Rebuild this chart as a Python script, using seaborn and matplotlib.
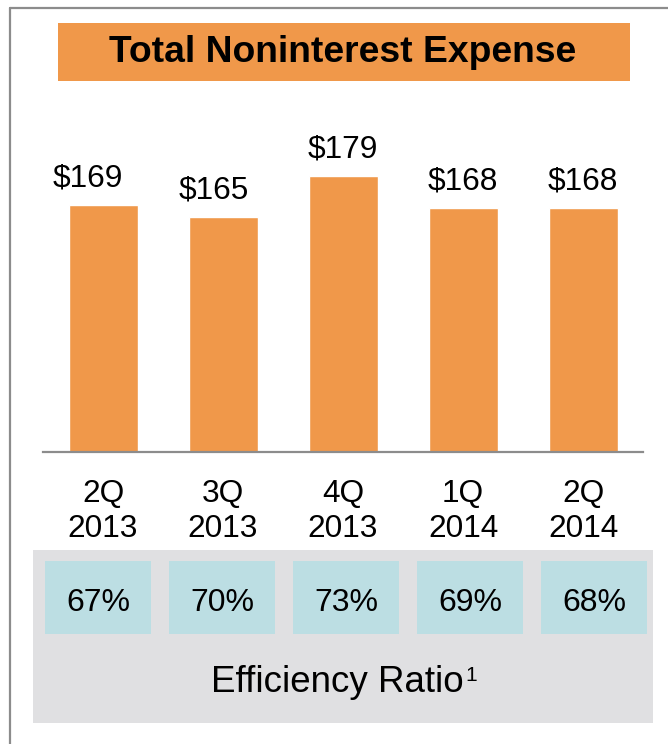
import matplotlib
matplotlib.use("Agg")
import matplotlib.pyplot as plt
import matplotlib.transforms as mtransforms
from matplotlib.patches import Rectangle
from matplotlib.lines import Line2D
import seaborn as sns
import pandas as pd

# ---- data ----
quarters = ["2Q\n2013", "3Q\n2013", "4Q\n2013", "1Q\n2014", "2Q\n2014"]
expense = [169, 165, 179, 168, 168]
efficiency = [67, 70, 73, 69, 68]
title = "Total Noninterest Expense"
panel_label = "Efficiency Ratio"

# label x-shifts (pixels), as in the original layout
label_shift = [-15, -9, 0, 0, 0]

sns.set_theme(style="white")
plt.rcParams['font.family'] = ['Liberation Sans', 'DejaVu Sans']

W, H = 668, 744
fig = plt.figure(figsize=(W / 100, H / 100), dpi=100)
fig.patch.set_facecolor("white")

def fx(x):
    return x / W

def fy(y):
    return 1 - y / H

ORANGE = "#F0984A"
GRAY_LINE = "#8C8C8C"
PANEL = "#E0E0E2"
CYAN = "#BCDEE3"

# outer border (left & top)
fig.add_artist(Line2D([fx(10), fx(10)], [fy(8), fy(H + 5)], color=GRAY_LINE, lw=1.6))
fig.add_artist(Line2D([fx(10), fx(W + 5)], [fy(8), fy(8)], color=GRAY_LINE, lw=1.6))

# title box
fig.add_artist(Rectangle((fx(58), fy(81)), fx(630) - fx(58), fy(23) - fy(81),
                         transform=fig.transFigure, facecolor=ORANGE, edgecolor="none",
                         zorder=-1))
fig.text(fx(343), fy(53), title, ha="center", va="center", fontsize=26.8,
         fontweight="bold", color="black")

# ---- bar chart ----
df = pd.DataFrame({"quarter": quarters, "expense": expense})
ax = fig.add_axes([fx(43), fy(452), fx(643) - fx(43), fy(100) - fy(452)])
sns.barplot(data=df, x="quarter", y="expense", color=ORANGE, saturation=1,
            width=0.575, ax=ax)
ax.set_xlim(-0.5, len(quarters) - 0.5)
ax.set_ylim(83.8, 205.2)
for s in ["top", "right", "left"]:
    ax.spines[s].set_visible(False)
ax.spines["bottom"].set_color(GRAY_LINE)
ax.spines["bottom"].set_linewidth(1.6)
ax.set_yticks([])
ax.set_xticks([])
ax.set_xlabel("")
ax.set_ylabel("")
ax.patch.set_alpha(0)

for i, v in enumerate(expense):
    ax.annotate(f"${v}", xy=(i, v), xytext=(label_shift[i], 18),
                textcoords="offset pixels",
                ha="center", va="baseline", fontsize=22.8, color="black")

blend = mtransforms.blended_transform_factory(ax.transData, fig.transFigure)
for i, q in enumerate(quarters):
    top, bottom = q.split("\n")
    fig.text(i, fy(502), top, transform=blend, ha="center", va="baseline",
             fontsize=22.8, color="black")
    fig.text(i, fy(537), bottom, transform=blend, ha="center", va="baseline",
             fontsize=22.8, color="black")

# ---- efficiency panel ----
fig.add_artist(Rectangle((fx(33), fy(723)), fx(653) - fx(33), fy(550) - fy(723),
                         transform=fig.transFigure, facecolor=PANEL, edgecolor="none",
                         zorder=-1))
ax2 = fig.add_axes([fx(36), fy(634), fx(656) - fx(36), fy(561) - fy(634)])
ax2.set_xlim(-0.5, len(efficiency) - 0.5)
ax2.set_ylim(0, 1)
ax2.axis("off")
half = 53 / 124
for i, e in enumerate(efficiency):
    ax2.add_patch(Rectangle((i - half, 0), 2 * half, 1, facecolor=CYAN, edgecolor="none"))
    ax2.text(i, 0.47, f"{e}%", ha="center", va="center_baseline", fontsize=23,
             color="black")

fig.text(fx(337), fy(692), panel_label, ha="center", va="baseline",
         fontsize=26.5, color="black")
fig.text(fx(465), fy(681), "1", ha="left", va="baseline", fontsize=15, color="black")

fig.savefig("out.png", dpi=100)
